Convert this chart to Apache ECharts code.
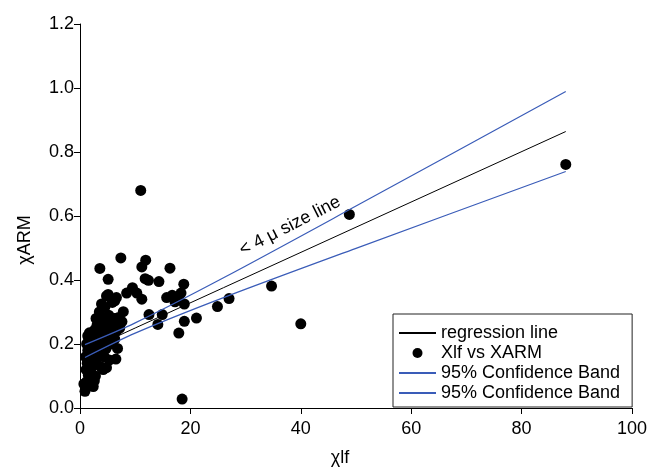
<!DOCTYPE html>
<html>
<head>
<meta charset="utf-8">
<script src="https://cdn.jsdelivr.net/npm/echarts@6/dist/echarts.min.js"></script>
<style>
    html, body { margin: 0; padding: 0; background: #fff; }
    #chart { width: 655px; height: 472px; }
</style>
</head>
<body>
<div id="chart"></div>
<script>
// χlf vs χARM
var xlf = [
    11.0, 7.4, 11.9, 3.6, 11.2, 16.3, 5.1, 11.8, 12.4, 14.3, 18.8, 9.5, 8.45, 10.3, 11.2,
    4.8, 6.6, 3.9, 15.7, 16.7, 17.8, 18.3, 17.2, 18.9, 4.5, 5.85, 7.85, 12.5, 14.9, 14.1,
    18.9, 21.1, 24.9, 17.9, 18.5, 27.0, 34.7, 40.0, 48.8, 88.0, 5.1, 6.3,
    0.9, 1.2, 1.5, 2.4, 1.0, 1.8, 1.1, 1.3, 1.0, 1.4, 1.2, 1.6,
    2.0, 2.2, 1.9, 2.3, 2.1, 2.5, 2.2, 2.7,
    2.8, 3.0, 2.9, 3.2, 3.0, 3.3, 3.1, 2.9,
    3.7, 3.6, 3.9, 3.7, 4.0, 3.5,
    4.2, 4.8, 4.4, 4.7, 4.5, 4.9, 4.6,
    5.3, 5.6, 5.4, 5.8, 5.2,
    6.5, 6.8, 6.3, 6.6, 6.2, 7.0, 7.6, 7.2,
    3.4, 6.6, 2.4, 5.1, 0.7, 1.7, 1.4, 2.6
];
var xarm = [
    0.680, 0.469, 0.462, 0.436, 0.441, 0.437, 0.402, 0.404, 0.399, 0.395, 0.387, 0.376, 0.359, 0.359, 0.340,
    0.350, 0.345, 0.325, 0.345, 0.352, 0.345, 0.359, 0.332, 0.325, 0.315, 0.330, 0.301, 0.292, 0.292, 0.261,
    0.271, 0.281, 0.317, 0.234, 0.028, 0.342, 0.381, 0.263, 0.605, 0.761, 0.355, 0.335,
    0.052, 0.082, 0.103, 0.067, 0.065, 0.090, 0.120, 0.140, 0.160, 0.180, 0.200, 0.215,
    0.110, 0.130, 0.150, 0.170, 0.190, 0.210, 0.230, 0.245,
    0.100, 0.140, 0.160, 0.185, 0.205, 0.225, 0.260, 0.280,
    0.130, 0.170, 0.200, 0.240, 0.265, 0.300,
    0.120, 0.126, 0.160, 0.185, 0.220, 0.245, 0.280,
    0.150, 0.200, 0.230, 0.260, 0.290,
    0.153, 0.186, 0.215, 0.240, 0.280, 0.283, 0.270, 0.250,
    0.273, 0.280, 0.237, 0.258, 0.075, 0.235, 0.225, 0.085
];

// regression line and 95% band
var fitX = [0.9, 10, 26, 50, 88];
var regY = [0.178, 0.250, 0.376, 0.565, 0.864];
var upperY = [0.198, 0.266, 0.407, 0.631, 0.989];
var lowerY = [0.158, 0.234, 0.345, 0.499, 0.739];

var legendNames = {
    reg: 'regression line',
    pts: 'Xlf vs XARM',
    up: '95% Confidence Band',
    low: '95% Confidence Band'
};

var FONT = 'Liberation Sans, Arial, sans-serif';

function pairs(xs, ys) {
    var out = [];
    for (var i = 0; i < xs.length; i++) {
        out.push([xs[i], ys[i]]);
    }
    return out;
}

var chart = echarts.init(document.getElementById('chart'));

var option = {
    animation: false,
    backgroundColor: '#fff',
    grid: {
        left: 80,
        right: 23,
        top: 24,
        bottom: 62
    },
    xAxis: {
        type: 'value',
        min: 0,
        max: 100,
        interval: 20,
        name: 'χlf',
        nameLocation: 'middle',
        nameGap: 41,
        nameTextStyle: { fontFamily: FONT, fontSize: 18, color: '#000', padding: [0, 32, 0, 0] },
        axisLine: { show: true, lineStyle: { color: '#000', width: 1 } },
        axisTick: { show: true, length: 6, lineStyle: { color: '#000' } },
        axisLabel: { fontFamily: FONT, fontSize: 18, color: '#000', margin: 12 },
        splitLine: { show: false }
    },
    yAxis: {
        type: 'value',
        min: 0,
        max: 1.2,
        interval: 0.2,
        name: 'χARM',
        nameLocation: 'middle',
        nameGap: 46,
        nameTextStyle: { fontFamily: FONT, fontSize: 18, color: '#000', padding: [0, 48, 0, 0] },
        axisLine: { show: true, lineStyle: { color: '#000', width: 1 } },
        axisTick: { show: true, length: 6, lineStyle: { color: '#000' } },
        axisLabel: {
            fontFamily: FONT, fontSize: 18, color: '#000', margin: 6,
            formatter: function (v) { return v.toFixed(1); }
        },
        splitLine: { show: false }
    },
    legend: {
        orient: 'vertical',
        left: 393,
        top: 314,
        padding: [10, 12, 5, 5],
        itemWidth: 37,
        itemHeight: 10,
        itemGap: 2,
        borderColor: '#222',
        borderWidth: 1,
        backgroundColor: '#fff',
        textStyle: { fontFamily: FONT, fontSize: 18, color: '#000' },
        formatter: function (name) { return legendNames[name]; },
        data: [
            { name: 'reg', itemStyle: { opacity: 0 } },
            'pts',
            { name: 'up', itemStyle: { opacity: 0 } },
            { name: 'low', itemStyle: { opacity: 0 } }
        ]
    },
    graphic: [{
        type: 'text',
        x: 290,
        y: 226,
        rotation: 27 * Math.PI / 180,
        style: {
            text: '< 4 μ size line',
            font: '18px ' + FONT,
            fill: '#000',
            align: 'center',
            verticalAlign: 'middle'
        }
    }],
    series: [
        {
            name: 'pts',
            type: 'scatter',
            symbol: 'circle',
            symbolSize: 11,
            itemStyle: { color: '#000', opacity: 1 },
            data: pairs(xlf, xarm),
            z: 2
        },
        {
            name: 'reg',
            type: 'line',
            symbol: 'none',
            lineStyle: { color: '#000', width: 1 },
            itemStyle: { color: '#000' },
            data: pairs(fitX, regY),
            z: 3
        },
        {
            name: 'up',
            type: 'line',
            symbol: 'none',
            smooth: 0.3,
            lineStyle: { color: '#3a5cb8', width: 1.2 },
            itemStyle: { color: '#3a5cb8' },
            data: pairs(fitX, upperY),
            z: 3
        },
        {
            name: 'low',
            type: 'line',
            symbol: 'none',
            smooth: 0.3,
            lineStyle: { color: '#3a5cb8', width: 1.2 },
            itemStyle: { color: '#3a5cb8' },
            data: pairs(fitX, lowerY),
            z: 3
        }
    ]
};

chart.setOption(option);
</script>
</body>
</html>
